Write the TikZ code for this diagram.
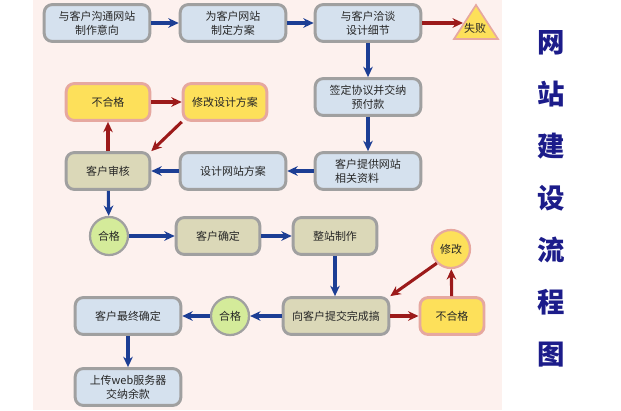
\documentclass[tikz,border=0pt]{standalone}
\usepackage{fontspec}
\setmainfont{Noto Sans CJK SC}
\usepackage{xcolor}
\usetikzlibrary{arrows.meta}
\definecolor{bgpink}{HTML}{FDF1EE}
\definecolor{boxblue}{HTML}{D5E1EE}
\definecolor{boxkhaki}{HTML}{DBD8B8}
\definecolor{boxyellow}{HTML}{FDE05A}
\definecolor{boxgreen}{HTML}{D4EB9A}
\definecolor{boxline}{HTML}{A0A0A0}
\definecolor{yellowline}{HTML}{E6A8A0}
\definecolor{arrowblue}{HTML}{1C3E94}
\definecolor{arrowred}{HTML}{9C1A1A}
\definecolor{titleblue}{HTML}{1C1C8A}

\begin{document}
\begin{tikzpicture}[x=0.025cm,y=-0.025cm]
\tikzstyle{every node}+=[inner sep=0pt, font=\fontsize{7.8}{9.9}\selectfont, text=black!85]
\tikzstyle{box}=[draw=boxline, line width=2.1pt, rounded corners=0.2cm, minimum height=0.92cm, align=center]
\tikzstyle{bluebox}=[box, fill=boxblue, minimum width=2.64cm]
\tikzstyle{khakibox}=[box, fill=boxkhaki, minimum width=2.09cm]
\tikzstyle{yellowbox}=[box, draw=yellowline, fill=boxyellow, minimum width=2.09cm]
\tikzstyle{okcircle}=[circle, draw=boxline, line width=1.6pt, fill=boxgreen, minimum size=0.95cm]
\tikzstyle{fixcircle}=[circle, draw=yellowline, line width=1.6pt, fill=boxyellow, minimum size=0.95cm]
\tikzstyle{barrow}=[draw=arrowblue, line width=2.2pt, -{Stealth[length=0.26cm,width=0.24cm]}]
\tikzstyle{rarrow}=[draw=arrowred, line width=2.2pt, -{Stealth[length=0.26cm,width=0.24cm]}]
\useasboundingbox (0,0) rectangle (621,410);
\fill [bgpink] (33,0) rectangle (502,410);
\node [bluebox] (talk) at (97,23) {与客户沟通网站\\制作意向};
\node [bluebox] (plan) at (233,23) {为客户网站\\制定方案};
\node [bluebox] (detail) at (368,23) {与客户洽谈\\设计细节};
\fill [boxyellow, draw=yellowline, line width=1.2pt] (476,5) -- (498,39) -- (454,39) -- cycle;
\node (fail) at (475,28) {失败};
\coordinate (failin) at (463,23);
\node [bluebox] (sign) at (368,97) {签定协议并交纳\\预付款};
\node [bluebox, align=left] (data) at (368,171) {客户提供网站\\相关资料};
\node [bluebox] (design) at (233,171) {设计网站方案};
\node [khakibox] (audit) at (108,171) {客户审核};
\node [yellowbox] (bad) at (108,102) {不合格};
\node [yellowbox] (redo) at (225,102) {修改设计方案};
\node [okcircle] (good) at (109,236) {合格};
\node [khakibox] (confirm) at (218,236) {客户确定};
\node [khakibox] (build) at (335,236) {整站制作};
\node [khakibox, minimum width=2.64cm] (submit) at (336,316) {向客户提交完成搞};
\node [okcircle] (pass) at (230,316) {合格};
\node [bluebox] (final) at (128,316) {客户最终确定};
\node [bluebox] (upload) at (128,387) {上传web服务器\\交纳余款};
\node [yellowbox, minimum width=1.6cm] (reject) at (452,316) {不合格};
\node [fixcircle] (modify) at (451,249) {修改};
\node [font=\fontsize{19.5}{37}\selectfont\bfseries, text=titleblue, align=center] (title) at (551,199) {网\\站\\建\\设\\流\\程\\图};
\draw [barrow] (talk) -- (plan);
\draw [barrow] (plan) -- (detail);
\draw [rarrow] (detail) -- (failin);
\draw [barrow] (detail) -- (sign);
\draw [barrow] (sign) -- (data);
\draw [barrow] (data) -- (design);
\draw [barrow] (design) -- (audit);
\draw [rarrow] (audit) -- (bad);
\draw [rarrow] (bad) -- (redo);
\draw [rarrow] (redo.south west) -- (audit.north east);
\draw [barrow] (audit) -- (good);
\draw [barrow] (good) -- (confirm);
\draw [barrow] (confirm) -- (build);
\draw [barrow] (build) -- (build |- submit.north);
\draw [rarrow] (submit) -- (reject);
\draw [rarrow] (reject) -- (modify);
\draw [rarrow] (modify.south west) -- (submit.north east);
\draw [barrow] (submit) -- (pass);
\draw [barrow] (pass) -- (final);
\draw [barrow] (final) -- (upload);
\end{tikzpicture}
\end{document}
